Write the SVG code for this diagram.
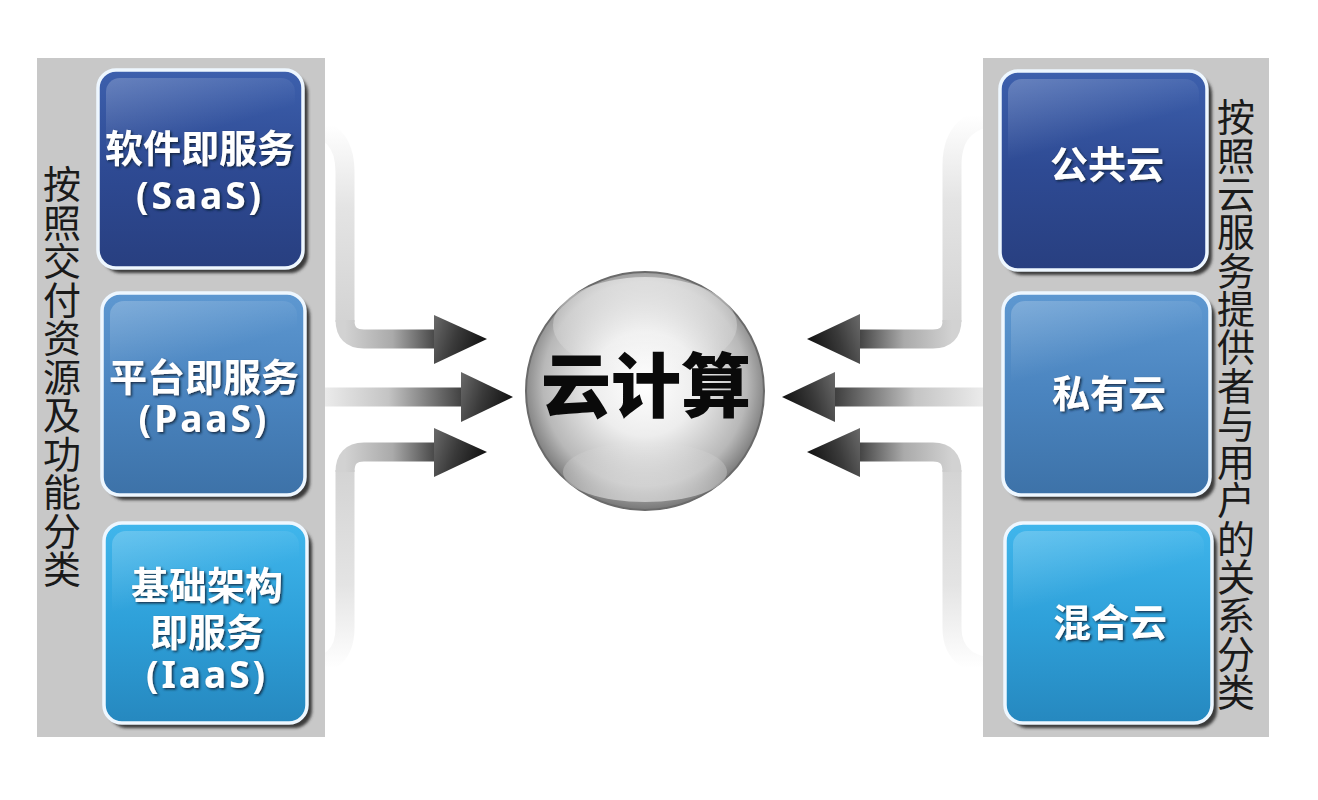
<svg xmlns="http://www.w3.org/2000/svg" width="1318" height="800" viewBox="0 0 1318 800">
<style>
.panel{fill:#c8c8c8}
.vt{font-family:"Noto Sans CJK SC","Noto Sans",sans-serif;font-size:38px;fill:#1a1a1a;writing-mode:vertical-rl;text-orientation:upright}
.bt{font-family:"Noto Sans CJK SC","Noto Sans",sans-serif;font-size:38px;font-weight:700;fill:#ffffff;text-anchor:middle;filter:url(#ts)}
.bl{font-family:"Noto Sans","Noto Sans CJK SC",sans-serif;font-size:37px;letter-spacing:3px}
.box{stroke:#eef7ff;stroke-width:3.5}
.shadow{fill:#3a3a3a;filter:url(#bs)}
.gloss{fill:url(#gGloss)}
.band{fill:none;stroke-width:19}
.head{stroke:none}
</style>
<defs>
<filter id="ts" x="-10%" y="-20%" width="120%" height="140%">
<feDropShadow dx="1.5" dy="1.5" stdDeviation="1.2" flood-color="#0d1a33" flood-opacity="0.85"/>
</filter>
<filter id="bs" x="-10%" y="-10%" width="120%" height="120%">
<feGaussianBlur stdDeviation="1.5"/>
</filter>
<linearGradient id="gDark" x1="0" y1="0" x2="0" y2="1">
<stop offset="0" stop-color="#3d60ad"/><stop offset="0.5" stop-color="#2e4a93"/><stop offset="1" stop-color="#283f80"/>
</linearGradient>
<linearGradient id="gMid" x1="0" y1="0" x2="0" y2="1">
<stop offset="0" stop-color="#5e98d1"/><stop offset="0.5" stop-color="#4a84bf"/><stop offset="1" stop-color="#3d72a8"/>
</linearGradient>
<linearGradient id="gLight" x1="0" y1="0" x2="0" y2="1">
<stop offset="0" stop-color="#40b6ec"/><stop offset="0.5" stop-color="#2ea0d9"/><stop offset="1" stop-color="#2688bf"/>
</linearGradient>
<linearGradient id="gGloss" x1="0" y1="0" x2="0.5" y2="1">
<stop offset="0" stop-color="#ffffff" stop-opacity="0.22"/><stop offset="0.6" stop-color="#ffffff" stop-opacity="0"/>
</linearGradient>
<radialGradient id="gSphere" cx="0.5" cy="0.47" r="0.55">
<stop offset="0" stop-color="#ffffff"/><stop offset="0.4" stop-color="#ededed"/><stop offset="0.78" stop-color="#b8b8b8"/><stop offset="1" stop-color="#6a6a6a"/>
</radialGradient>
<linearGradient id="gHi" x1="0" y1="0" x2="0" y2="1">
<stop offset="0" stop-color="#ffffff" stop-opacity="0.55"/><stop offset="1" stop-color="#ffffff" stop-opacity="0"/>
</linearGradient>
<linearGradient id="gLo" x1="0" y1="1" x2="0" y2="0">
<stop offset="0" stop-color="#ffffff" stop-opacity="0.5"/><stop offset="1" stop-color="#ffffff" stop-opacity="0"/>
</linearGradient>
<linearGradient id="gL1v" gradientUnits="userSpaceOnUse" x1="0" y1="125" x2="0" y2="330">
<stop offset="0" stop-color="#ffffff"/><stop offset="0.4" stop-color="#e4e4e4"/><stop offset="1" stop-color="#d2d2d2"/>
</linearGradient>
<linearGradient id="gL3v" gradientUnits="userSpaceOnUse" x1="0" y1="668" x2="0" y2="460">
<stop offset="0" stop-color="#ffffff"/><stop offset="0.4" stop-color="#e4e4e4"/><stop offset="1" stop-color="#d2d2d2"/>
</linearGradient>
<linearGradient id="gLh" gradientUnits="userSpaceOnUse" x1="345" y1="0" x2="440" y2="0">
<stop offset="0" stop-color="#d2d2d2"/><stop offset="0.5" stop-color="#aaaaaa"/><stop offset="1" stop-color="#3c3c3c"/>
</linearGradient>
<linearGradient id="gLm" gradientUnits="userSpaceOnUse" x1="325" y1="0" x2="466" y2="0">
<stop offset="0" stop-color="#ebebeb"/><stop offset="0.45" stop-color="#c4c4c4"/><stop offset="1" stop-color="#3a3a3a"/>
</linearGradient>
<linearGradient id="gR1v" gradientUnits="userSpaceOnUse" x1="0" y1="115" x2="0" y2="330">
<stop offset="0" stop-color="#ffffff"/><stop offset="0.4" stop-color="#e4e4e4"/><stop offset="1" stop-color="#d2d2d2"/>
</linearGradient>
<linearGradient id="gR3v" gradientUnits="userSpaceOnUse" x1="0" y1="668" x2="0" y2="460">
<stop offset="0" stop-color="#ffffff"/><stop offset="0.4" stop-color="#e4e4e4"/><stop offset="1" stop-color="#d2d2d2"/>
</linearGradient>
<linearGradient id="gRh" gradientUnits="userSpaceOnUse" x1="952" y1="0" x2="856" y2="0">
<stop offset="0" stop-color="#d2d2d2"/><stop offset="0.5" stop-color="#aaaaaa"/><stop offset="1" stop-color="#3c3c3c"/>
</linearGradient>
<linearGradient id="gRm" gradientUnits="userSpaceOnUse" x1="983" y1="0" x2="832" y2="0">
<stop offset="0" stop-color="#ebebeb"/><stop offset="0.45" stop-color="#c4c4c4"/><stop offset="1" stop-color="#3a3a3a"/>
</linearGradient>
<linearGradient id="gHeadR" x1="0" y1="0" x2="1" y2="0.3">
<stop offset="0" stop-color="#6a6a6a"/><stop offset="0.5" stop-color="#3a3a3a"/><stop offset="1" stop-color="#151515"/>
</linearGradient>
<linearGradient id="gHeadL" x1="1" y1="0" x2="0" y2="0.3">
<stop offset="0" stop-color="#6a6a6a"/><stop offset="0.5" stop-color="#3a3a3a"/><stop offset="1" stop-color="#151515"/>
</linearGradient>
</defs>

<rect width="1318" height="800" fill="#ffffff"/>

<g id="connectors">
<path class="band" stroke="url(#gL1v)" d="M 300 126 Q 345 126 345 172 L 345 322"/>
<path class="band" stroke="url(#gLh)" d="M 345 320 Q 345 339 364 339 L 440 339"/>
<polygon class="head" fill="url(#gHeadR)" points="434,315 487,339 434,364"/>
<path class="band" stroke="url(#gLm)" d="M 310 397 L 466 397"/>
<polygon class="head" fill="url(#gHeadR)" points="461,372 513,397 461,422"/>
<path class="band" stroke="url(#gL3v)" d="M 345 470 L 345 628 Q 345 668 300 668"/>
<path class="band" stroke="url(#gLh)" d="M 345 472 Q 345 452 364 452 L 440 452"/>
<polygon class="head" fill="url(#gHeadR)" points="434,428 487,452 434,477"/>

<path class="band" stroke="url(#gR1v)" d="M 1005 116 Q 952 116 952 165 L 952 322"/>
<path class="band" stroke="url(#gRh)" d="M 952 320 Q 952 339 933 339 L 855 339"/>
<polygon class="head" fill="url(#gHeadL)" points="860,314 807,339 860,364"/>
<path class="band" stroke="url(#gRm)" d="M 1000 397 L 830 397"/>
<polygon class="head" fill="url(#gHeadL)" points="835,372 782,397 835,422"/>
<path class="band" stroke="url(#gR3v)" d="M 952 470 L 952 628 Q 952 668 1005 668"/>
<path class="band" stroke="url(#gRh)" d="M 952 472 Q 952 452 933 452 L 855 452"/>
<polygon class="head" fill="url(#gHeadL)" points="860,428 807,452 860,477"/>
</g>

<g id="left-panel">
<rect class="panel" x="37" y="58" width="288" height="679"/>
<text class="vt" x="62" y="165" letter-spacing="0.5">按照交付资源及功能分类</text>
</g>

<g id="right-panel">
<rect class="panel" x="983" y="58" width="286" height="679"/>
<text class="vt" x="1236" y="98" letter-spacing="0.3">按照云服务提供者与用户的关系分类</text>
</g>

<g id="saas">
<rect class="shadow" x="103" y="75" width="205" height="198" rx="18"/>
<rect class="box" x="98" y="70" width="205" height="198" rx="18" fill="url(#gDark)"/>
<rect class="gloss" x="106" y="78" width="189" height="110" rx="14"/>
<text class="bt"><tspan x="200" y="162">软件即服务</tspan><tspan class="bl" x="200" y="209">(SaaS)</tspan></text>
</g>
<g id="paas">
<rect class="shadow" x="107" y="298" width="203" height="202" rx="18"/>
<rect class="box" x="102" y="293" width="203" height="202" rx="18" fill="url(#gMid)"/>
<rect class="gloss" x="110" y="301" width="187" height="110" rx="14"/>
<text class="bt"><tspan x="204" y="391">平台即服务</tspan><tspan class="bl" x="204" y="432">(PaaS)</tspan></text>
</g>
<g id="iaas">
<rect class="shadow" x="109" y="528" width="203" height="200" rx="18"/>
<rect class="box" x="104" y="523" width="203" height="200" rx="18" fill="url(#gLight)"/>
<rect class="gloss" x="112" y="531" width="187" height="110" rx="14"/>
<text class="bt"><tspan x="207" y="599">基础架构</tspan><tspan x="207" y="646">即服务</tspan><tspan class="bl" x="207" y="688">(IaaS)</tspan></text>
</g>

<g id="public-cloud">
<rect class="shadow" x="1005" y="76" width="207" height="199" rx="18"/>
<rect class="box" x="1000" y="71" width="207" height="199" rx="18" fill="url(#gDark)"/>
<rect class="gloss" x="1008" y="79" width="191" height="110" rx="14"/>
<text class="bt" x="1107" y="178">公共云</text>
</g>
<g id="private-cloud">
<rect class="shadow" x="1008" y="298" width="207" height="202" rx="18"/>
<rect class="box" x="1003" y="293" width="207" height="202" rx="18" fill="url(#gMid)"/>
<rect class="gloss" x="1011" y="301" width="191" height="110" rx="14"/>
<text class="bt" x="1109" y="407">私有云</text>
</g>
<g id="hybrid-cloud">
<rect class="shadow" x="1010" y="528" width="207" height="200" rx="18"/>
<rect class="box" x="1005" y="523" width="207" height="200" rx="18" fill="url(#gLight)"/>
<rect class="gloss" x="1013" y="531" width="191" height="110" rx="14"/>
<text class="bt" x="1110" y="636">混合云</text>
</g>

<g id="cloud-computing">
<circle cx="645" cy="391" r="119" fill="url(#gSphere)" stroke="#6a6a6a" stroke-width="2"/>
<ellipse cx="645" cy="325" rx="92" ry="48" fill="url(#gHi)"/>
<ellipse cx="645" cy="472" rx="82" ry="30" fill="url(#gLo)"/>
<text x="646" y="412" font-family="'Noto Sans CJK SC','Noto Sans',sans-serif" font-size="70" font-weight="900" fill="#0a0a0a" text-anchor="middle">云计算</text>
</g>
</svg>
